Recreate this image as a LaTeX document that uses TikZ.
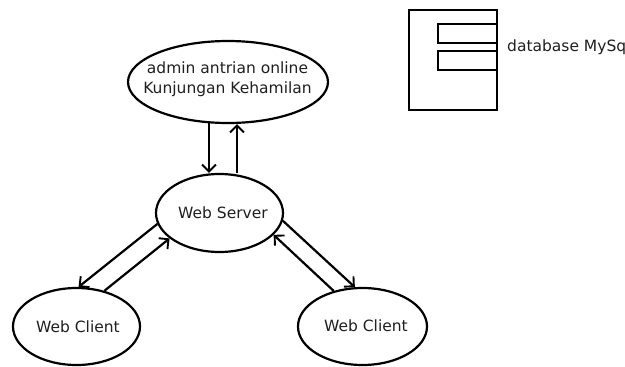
\documentclass[tikz,border=0pt]{standalone}
\usepackage{fontspec}
\setmainfont{DejaVu Sans}
\usetikzlibrary{shapes.geometric,arrows.meta,calc}
\begin{document}
\begin{tikzpicture}[x=1pt,y=-1pt,
  lbl/.style={font=\fontsize{15.5}{20}\selectfont, text=black!88, inner sep=0pt},
  oval/.style={ellipse,draw=black,line width=2.2pt,inner sep=0pt},
  arr/.style={line width=2.2pt,-{Straight Barb[length=7pt,width=14pt,line width=1.9pt]}},
  box/.style={draw=black,line width=2.2pt,inner sep=0pt}]
\useasboundingbox (0,0) rectangle (625,367);
\node[oval,minimum width=200pt,minimum height=82pt] (admin) at (228,82) {};
\node[lbl,align=center] (admintxt) at (227.5,79) {admin antrian online\\Kunjungan Kehamilan};
\node[oval,minimum width=127pt,minimum height=78pt] (server) at (219.5,213) {};
\node[lbl] (servertxt) at (223,213) {Web Server};
\node[oval,minimum width=127pt,minimum height=77pt] (c1) at (76.5,326.5) {};
\node[lbl] (c1txt) at (78,327) {Web Client};
\node[oval,minimum width=129pt,minimum height=77pt] (c2) at (362.5,326.5) {};
\node[lbl] (c2txt) at (366,326) {Web Client};
% database
\node[box,minimum width=88pt,minimum height=100pt] (db) at (453,60) {};
\node[box,minimum width=59pt,minimum height=19pt,anchor=north east] (t1) at ($(db.north east)+(0,14)$) {};
\node[box,minimum width=59pt,minimum height=19pt,anchor=north east] (t2) at ($(db.north east)+(0,41)$) {};
\node[lbl,anchor=west] (dbl) at (507,47) {database MySq};
% connectors
\draw[arr] ($(admin.south)+(-19,-1)$) -- ($(server.north)+(-10.5,0)$);
\draw[arr] ($(server.north)+(17.5,0)$) -- ($(admin.south)+(9,0)$);
\draw[arr] (server.190.9) -- (c1.87);
\draw[arr] (c1.52.7) -- (server.207.7);
\draw[arr] (server.353.8) -- (c2.101);
\draw[arr] (c2.129) -- (server.338.4);
\end{tikzpicture}
\end{document}
